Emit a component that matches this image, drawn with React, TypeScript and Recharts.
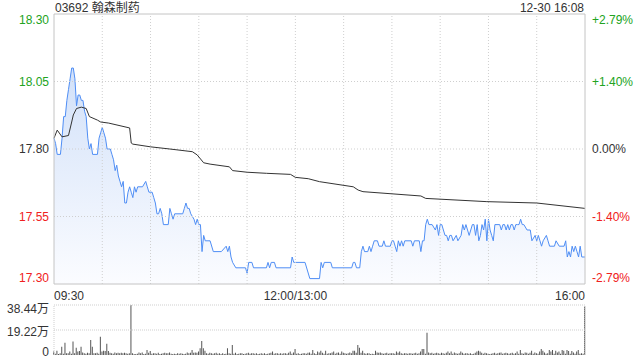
import { ComposedChart, Area, Line, Bar, XAxis, YAxis, ReferenceLine } from 'recharts';

const TITLE = '03692 翰森制药';
const STAMP = '12-30 16:08';
const PREV_CLOSE = 17.8;

// minute index from 09:30 (lunch break skipped, 0..330)
const PRICE_MIN = [
  0, 1, 2, 4, 5, 6, 7, 8, 9, 10, 11, 12, 13, 14, 15, 16, 17, 18, 19, 20,
  21, 22, 23, 24, 27, 28, 29, 30, 31, 32, 33, 35, 36, 37, 38, 39, 40, 41, 42, 43,
  44, 45, 46, 47, 48, 49, 50, 51, 52, 55, 57, 58, 59, 61, 62, 63, 64, 65, 66, 67,
  68, 71, 72, 73, 74, 75, 80, 81, 82, 83, 84, 85, 87, 88, 89, 90, 91, 92, 93, 94,
  97, 99, 104, 107, 108, 109, 110, 111, 113, 119, 120, 121, 123, 124, 132, 133, 134, 135, 137, 138,
  147, 148, 149, 156, 159, 165, 166, 167, 168, 172, 173, 185, 186, 187, 188, 190, 191, 192, 193, 195,
  196, 197, 198, 199, 201, 202, 204, 205, 206, 209, 210, 211, 212, 213, 214, 215, 216, 217, 218, 222,
  223, 224, 227, 228, 229, 230, 231, 232, 233, 235, 237, 238, 239, 240, 241, 242, 243, 244, 245, 246,
  247, 248, 250, 251, 253, 254, 255, 256, 257, 258, 259, 260, 261, 262, 263, 264, 265, 266, 267, 268,
  269, 270, 271, 272, 273, 274, 277, 278, 279, 280, 281, 282, 283, 284, 285, 286, 287, 288, 289, 290,
  291, 292, 294, 296, 297, 299, 300, 301, 302, 303, 304, 306, 307, 308, 311, 312, 314, 317, 318, 319,
  320, 321, 322, 323, 324, 325, 326, 327, 328, 330,
];
const PRICE = [
  17.84, 17.82, 17.78, 17.78, 17.84, 17.92, 17.92, 17.98, 18.02, 18.06, 18.1, 18.1, 18.06, 17.96, 18.0, 18.0, 17.98, 17.98, 17.94, 17.92,
  17.84, 17.8, 17.82, 17.78, 17.78, 17.84, 17.86, 17.88, 17.86, 17.84, 17.8, 17.8, 17.78, 17.76, 17.72, 17.74, 17.7, 17.68, 17.66, 17.68,
  17.6, 17.6, 17.64, 17.66, 17.64, 17.62, 17.66, 17.64, 17.66, 17.66, 17.68, 17.66, 17.64, 17.64, 17.62, 17.6, 17.56, 17.56, 17.58, 17.56,
  17.52, 17.52, 17.58, 17.56, 17.54, 17.56, 17.56, 17.58, 17.6, 17.58, 17.58, 17.56, 17.54, 17.52, 17.54, 17.52, 17.52, 17.42, 17.48, 17.46,
  17.46, 17.42, 17.42, 17.44, 17.42, 17.44, 17.4, 17.38, 17.36, 17.36, 17.34, 17.38, 17.38, 17.36, 17.36, 17.38, 17.36, 17.38, 17.38, 17.36,
  17.36, 17.4, 17.38, 17.38, 17.32, 17.32, 17.38, 17.36, 17.38, 17.38, 17.36, 17.36, 17.38, 17.38, 17.36, 17.36, 17.42, 17.44, 17.42, 17.42,
  17.44, 17.42, 17.44, 17.46, 17.46, 17.44, 17.44, 17.46, 17.44, 17.44, 17.46, 17.46, 17.44, 17.42, 17.46, 17.44, 17.46, 17.44, 17.46, 17.46,
  17.44, 17.46, 17.46, 17.42, 17.46, 17.46, 17.52, 17.54, 17.52, 17.52, 17.5, 17.52, 17.48, 17.52, 17.52, 17.5, 17.48, 17.48, 17.46, 17.48,
  17.48, 17.46, 17.48, 17.46, 17.48, 17.52, 17.5, 17.52, 17.5, 17.48, 17.5, 17.52, 17.52, 17.48, 17.52, 17.46, 17.48, 17.52, 17.5, 17.54,
  17.46, 17.54, 17.5, 17.48, 17.46, 17.52, 17.52, 17.5, 17.52, 17.52, 17.5, 17.52, 17.5, 17.52, 17.52, 17.5, 17.52, 17.52, 17.52, 17.54,
  17.52, 17.52, 17.5, 17.5, 17.46, 17.48, 17.46, 17.48, 17.46, 17.44, 17.46, 17.48, 17.46, 17.44, 17.44, 17.46, 17.44, 17.44, 17.46, 17.4,
  17.42, 17.4, 17.44, 17.42, 17.44, 17.42, 17.4, 17.44, 17.4, 17.4,
];

const AVG_MIN = [
  0, 2, 5, 9, 11, 12, 14, 17, 20, 22, 27, 29, 34, 47, 48, 49, 60, 72, 86, 89,
  93, 97, 109, 111, 120, 132, 147, 150, 158, 165, 186, 189, 192, 228, 231, 269, 300, 330,
];
const AVG = [
  17.84, 17.87, 17.845, 17.85, 17.9, 17.926, 17.95, 17.955, 17.95, 17.92, 17.907, 17.9, 17.896, 17.878, 17.822, 17.818, 17.808, 17.8, 17.79, 17.778,
  17.749, 17.744, 17.734, 17.72, 17.714, 17.71, 17.706, 17.695, 17.69, 17.679, 17.66, 17.648, 17.642, 17.626, 17.617, 17.605, 17.6, 17.58,
];

// volume per minute, 万股
const VOLUME = [
  2.6, 1.0, 3.3, 0.8, 1.3, 6.4, 1.0, 9.5, 1.3, 1.3,
  2.6, 1.0, 10.3, 1.3, 5.6, 2.6, 3.1, 6.4, 2.0, 1.3,
  1.0, 1.8, 1.3, 11.5, 6.4, 1.3, 1.3, 1.8, 1.0, 14.1,
  2.6, 3.3, 3.1, 8.7, 3.1, 1.8, 1.3, 1.0, 2.0, 1.3,
  1.8, 1.3, 1.8, 1.3, 1.8, 1.3, 1.0, 1.3, 38.44, 1.3,
  0.8, 0.8, 1.0, 2.0, 1.3, 2.0, 0.8, 1.0, 3.8, 1.8,
  3.1, 1.0, 1.3, 1.3, 1.0, 1.8, 0.8, 1.0, 1.3, 1.8,
  1.3, 1.3, 2.0, 1.0, 0.8, 1.0, 0.8, 1.3, 1.0, 1.3,
  1.0, 0.8, 1.0, 2.0, 1.3, 1.8, 3.8, 1.8, 2.0, 1.8,
  2.6, 5.1, 10.8, 5.1, 3.3, 1.3, 1.0, 1.8, 1.3, 1.0,
  1.3, 1.8, 1.0, 1.3, 0.8, 1.3, 0.8, 1.0, 5.1, 1.3,
  1.0, 7.7, 1.0, 1.8, 0.8, 1.0, 1.3, 1.3, 0.8, 1.0,
  1.3, 1.8, 1.0, 1.3, 1.3, 1.0, 1.3, 0.8, 1.0, 1.3,
  1.0, 1.3, 0.8, 1.0, 1.3, 1.8, 2.6, 1.0, 1.3, 1.3,
  1.0, 1.3, 1.0, 1.3, 1.3, 1.0, 1.8, 2.6, 1.0, 2.0,
  4.6, 1.0, 1.3, 0.8, 1.0, 1.3, 1.3, 1.0, 1.8, 2.0,
  1.0, 3.8, 1.3, 0.8, 2.6, 2.0, 3.3, 1.8, 1.0, 3.3,
  1.0, 1.3, 1.3, 2.0, 2.6, 1.0, 1.8, 2.0, 1.0, 2.6,
  1.8, 1.3, 1.0, 1.3, 2.0, 1.3, 3.3, 3.3, 1.8, 7.7,
  5.6, 1.8, 3.3, 1.3, 1.0, 1.3, 1.3, 0.8, 1.0, 0.8,
  3.3, 2.0, 1.8, 2.0, 1.3, 1.0, 1.3, 1.8, 1.0, 1.3,
  1.3, 1.3, 1.0, 2.6, 1.8, 2.6, 1.3, 1.0, 1.3, 1.3,
  1.0, 1.3, 1.3, 1.0, 1.3, 1.8, 1.0, 1.3, 2.6, 4.6,
  4.6, 1.0, 17.2, 2.0, 1.3, 1.8, 1.0, 1.3, 1.8, 1.3,
  1.0, 1.8, 1.3, 1.0, 1.8, 2.6, 1.3, 2.6, 1.0, 2.0,
  1.3, 1.0, 1.3, 2.6, 1.8, 1.0, 1.3, 1.3, 1.0, 1.3,
  0.8, 1.0, 1.8, 2.6, 3.3, 2.6, 1.8, 1.0, 1.8, 1.3,
  1.0, 0.8, 1.0, 1.3, 1.8, 1.0, 1.3, 1.8, 2.0, 1.0,
  1.3, 1.8, 1.3, 1.0, 1.3, 1.8, 1.0, 1.3, 2.6, 1.0,
  3.8, 1.3, 1.0, 2.0, 1.8, 1.0, 1.8, 3.3, 1.0, 2.0,
  1.3, 1.0, 2.6, 4.6, 3.3, 2.0, 1.0, 1.3, 3.8, 2.6,
  3.8, 1.0, 3.3, 2.0, 2.6, 1.0, 3.8, 3.3, 1.0, 3.8,
  3.1, 1.0, 3.1, 2.0, 1.0, 2.6, 3.8, 1.0, 1.3, 1.0,
  37.2,
];

const PRICE_TICKS = [17.3, 17.55, 17.8, 18.05, 18.3];
const PCT_LABELS = ['-2.79%', '-1.40%', '0.00%', '+1.40%', '+2.79%'];
const TIME_TICKS = [0, 150, 330];
const TIME_LABELS = ['09:30', '12:00/13:00', '16:00'];
const GRID_MIN = [30, 60, 90, 120, 150, 180, 210, 240, 270, 300];
const VOL_TICKS = [0, 19.22, 38.44];
const VOL_LABELS = ['0', '19.22万', '38.44万'];

const FONT = '"Liberation Sans", Arial, "Noto Sans CJK SC", sans-serif';
const UP = '#21a321';
const DOWN = '#f02020';
const GRID = '#cfcfcf';

function tickColor(v: number) {
  if (Math.abs(v - PREV_CLOSE) < 0.001) return '#333';
  return v > PREV_CLOSE ? UP : DOWN;
}

function edgeShift(index: number, last: number) {
  if (index === last) return 10;
  if (index === 0) return -2;
  return 4;
}

function LeftTick({ x, y, payload, index }: any) {
  return (
    <text x={x - 3} y={y + edgeShift(index, 4)} textAnchor="end" fontSize={12} fill={tickColor(payload.value)} fontFamily={FONT}>
      {payload.value.toFixed(2)}
    </text>
  );
}

function RightTick({ x, y, payload, index }: any) {
  return (
    <text x={x + 5} y={y + edgeShift(index, 4)} textAnchor="start" fontSize={12} fill={tickColor(payload.value)} fontFamily={FONT}>
      {PCT_LABELS[index]}
    </text>
  );
}

function TimeTick({ x, y, index }: any) {
  const anchor = index === 0 ? 'start' : index === 2 ? 'end' : 'middle';
  return (
    <text x={x} y={y + 14} textAnchor={anchor} fontSize={12} fill="#333" fontFamily={FONT}>
      {TIME_LABELS[index]}
    </text>
  );
}

function VolTick({ x, y, index }: any) {
  const shift = index === 2 ? 8 : index === 0 ? 1 : 6;
  return (
    <text x={x - 3} y={y + shift} textAnchor="end" fontSize={12} fill="#333" fontFamily={FONT}>
      {VOL_LABELS[index]}
    </text>
  );
}

export default function App() {
  const minutes = Array.from(new Set([...PRICE_MIN, ...AVG_MIN])).sort((a, b) => a - b);
  const table = minutes.map((m) => {
    const pi = PRICE_MIN.indexOf(m);
    const ai = AVG_MIN.indexOf(m);
    return { m, p: pi >= 0 ? PRICE[pi] : null, a: ai >= 0 ? AVG[ai] : null };
  });
  const volData = VOLUME.map((v, m) => ({ m, v }));

  return (
    <div style={{ position: 'relative', width: 640, height: 360, background: '#fff', fontFamily: FONT, overflow: 'hidden' }}>
      <style>{'body{margin:0}'}</style>
      <div style={{ position: 'absolute', left: 55, top: 0, fontSize: 12, color: '#333', lineHeight: '16px' }}>{TITLE}</div>
      <div style={{ position: 'absolute', right: 56, top: 0, fontSize: 12, color: '#333', lineHeight: '16px' }}>{STAMP}</div>
      <div style={{ position: 'absolute', left: 531, top: 269, fontSize: 12, color: '#d4d4d4', lineHeight: '16px' }}>sina.com</div>

      <div style={{ position: 'absolute', left: 0, top: 0 }}>
        <ComposedChart width={640} height={304} data={table} margin={{ top: 14, right: 0, bottom: 4, left: 0 }}>
          <defs>
            <linearGradient id="priceFill" x1="0" y1="0" x2="0" y2="1">
              <stop offset="0%" stopColor="#d2e1f9" />
              <stop offset="100%" stopColor="#fbfcff" />
            </linearGradient>
          </defs>
          <XAxis
            dataKey="m"
            type="number"
            domain={[0, 330]}
            ticks={TIME_TICKS}
            interval={0}
            height={16}
            axisLine={false}
            tickLine={false}
            tickSize={0}
            tick={<TimeTick />}
          />
          <YAxis
            yAxisId="p"
            domain={[17.3, 18.3]}
            ticks={PRICE_TICKS}
            interval={0}
            allowDataOverflow
            width={54}
            axisLine={false}
            tickLine={false}
            tickSize={0}
            tick={<LeftTick />}
          />
          <YAxis
            yAxisId="pct"
            orientation="right"
            domain={[17.3, 18.3]}
            ticks={PRICE_TICKS}
            interval={0}
            allowDataOverflow
            width={55}
            axisLine={false}
            tickLine={false}
            tickSize={0}
            tick={<RightTick />}
          />
          {GRID_MIN.map((g) => (
            <ReferenceLine key={g} yAxisId="p" x={g} stroke={GRID} strokeDasharray="1 2" />
          ))}
          {[17.55, 17.8, 18.05].map((g) => (
            <ReferenceLine key={g} yAxisId="p" y={g} stroke={GRID} strokeDasharray="1 2" />
          ))}
          <Area
            yAxisId="p"
            dataKey="p"
            type="linear"
            connectNulls
            stroke="#4f8ef5"
            strokeWidth={1}
            fill="url(#priceFill)"
            fillOpacity={1}
            baseValue={17.3}
            dot={false}
            activeDot={false}
            isAnimationActive={false}
          />
          <Line
            yAxisId="p"
            dataKey="a"
            type="linear"
            connectNulls
            stroke="#333"
            strokeWidth={1}
            dot={false}
            activeDot={false}
            isAnimationActive={false}
          />
          <ReferenceLine yAxisId="p" x={0} stroke="#c4c4c4" />
          <ReferenceLine yAxisId="p" x={330} stroke="#c4c4c4" />
          <ReferenceLine yAxisId="p" y={18.3} stroke="#c4c4c4" />
          <ReferenceLine yAxisId="p" y={17.3} stroke="#c4c4c4" />
        </ComposedChart>
      </div>

      <div style={{ position: 'absolute', left: 0, top: 300 }}>
        <ComposedChart width={640} height={60} data={volData} margin={{ top: 5, right: 55, bottom: 5, left: 0 }}>
          <XAxis dataKey="m" type="number" domain={[0, 330]} hide />
          <YAxis
            domain={[0, 38.44]}
            ticks={VOL_TICKS}
            interval={0}
            allowDataOverflow
            width={54}
            axisLine={false}
            tickLine={false}
            tickSize={0}
            tick={<VolTick />}
          />
          <ReferenceLine y={38.44} stroke={GRID} strokeDasharray="1 1" />
          <ReferenceLine y={19.22} stroke={GRID} strokeDasharray="1 1" />
          <ReferenceLine x={0} stroke={GRID} strokeDasharray="1 1" />
          <ReferenceLine x={330} stroke={GRID} strokeDasharray="1 1" />
          <Bar dataKey="v" fill="#555" barSize={1} isAnimationActive={false} />
        </ComposedChart>
      </div>
    </div>
  );
}
